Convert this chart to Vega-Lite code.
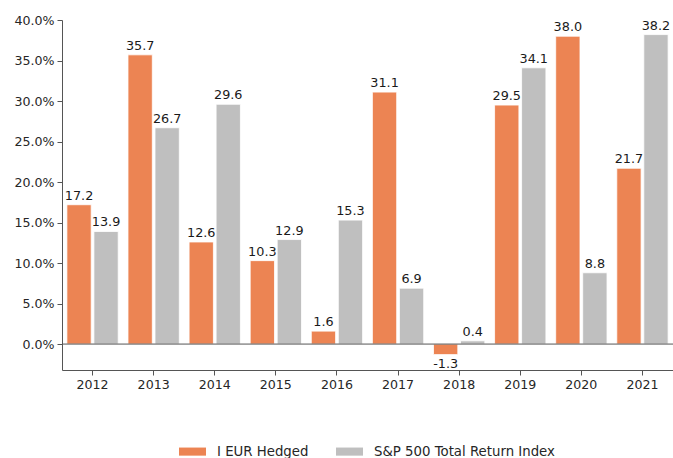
{
  "$schema": "https://vega.github.io/schema/vega-lite/v6.json",
  "width": 611,
  "height": 350,
  "autosize": {"type": "none"},
  "padding": {"left": 62, "top": 20, "right": 0, "bottom": 88},
  "config": {
    "view": {"stroke": null},
    "font": "DejaVu Sans",
    "axis": {"labelFont": "DejaVu Sans", "labelFontSize": 12.6, "labelColor": "#262626", "domainColor": "#555555", "tickColor": "#555555", "grid": false, "title": null, "tickSize": 5, "labelPadding": 3},
    "legend": {"labelFont": "DejaVu Sans", "labelFontSize": 13.3, "labelColor": "#262626", "labelLimit": 0}
  },
  "data": {"values": [
    {"year": "2012", "series": "I EUR Hedged", "value": 17.2},
    {"year": "2012", "series": "S&P 500 Total Return Index", "value": 13.9},
    {"year": "2013", "series": "I EUR Hedged", "value": 35.7},
    {"year": "2013", "series": "S&P 500 Total Return Index", "value": 26.7},
    {"year": "2014", "series": "I EUR Hedged", "value": 12.6},
    {"year": "2014", "series": "S&P 500 Total Return Index", "value": 29.6},
    {"year": "2015", "series": "I EUR Hedged", "value": 10.3},
    {"year": "2015", "series": "S&P 500 Total Return Index", "value": 12.9},
    {"year": "2016", "series": "I EUR Hedged", "value": 1.6},
    {"year": "2016", "series": "S&P 500 Total Return Index", "value": 15.3},
    {"year": "2017", "series": "I EUR Hedged", "value": 31.1},
    {"year": "2017", "series": "S&P 500 Total Return Index", "value": 6.9},
    {"year": "2018", "series": "I EUR Hedged", "value": -1.3},
    {"year": "2018", "series": "S&P 500 Total Return Index", "value": 0.4},
    {"year": "2019", "series": "I EUR Hedged", "value": 29.5},
    {"year": "2019", "series": "S&P 500 Total Return Index", "value": 34.1},
    {"year": "2020", "series": "I EUR Hedged", "value": 38.0},
    {"year": "2020", "series": "S&P 500 Total Return Index", "value": 8.8},
    {"year": "2021", "series": "I EUR Hedged", "value": 21.7},
    {"year": "2021", "series": "S&P 500 Total Return Index", "value": 38.2}
  ]},
  "transform": [{"calculate": "replace(format(datum.value, '.1f'), '\u2212', '-')", "as": "label"}],
  "encoding": {
    "x": {"field": "year", "type": "nominal", "scale": {"paddingInner": 0.16, "paddingOuter": 0.08}, "axis": {"labelAngle": 0}},
    "xOffset": {"field": "series", "type": "nominal", "scale": {"paddingInner": 0.1}},
    "y": {"field": "value", "type": "quantitative", "scale": {"domain": [-3.2, 40], "nice": false, "zero": false}, "axis": {"values": [0, 5, 10, 15, 20, 25, 30, 35, 40], "labelExpr": "format(datum.value, '.1f') + '%'"}}
  },
  "layer": [
    {
      "mark": {"type": "bar", "stroke": "white", "strokeWidth": 0.8},
      "encoding": {
        "y2": {"datum": 0},
        "color": {"field": "series", "type": "nominal", "scale": {"domain": ["I EUR Hedged", "S&P 500 Total Return Index"], "range": ["#EC8453", "#BFBFBF"]},
          "legend": {"title": null, "orient": "none", "legendX": 117, "legendY": 418, "direction": "horizontal", "symbolType": "M-1,-0.3H1V0.3H-1Z", "symbolSize": 729, "symbolStrokeWidth": 0, "labelOffset": 11, "columnPadding": 27}}
      }
    },
    {
      "transform": [{"filter": "datum.value >= 0"}],
      "mark": {"type": "text", "baseline": "bottom", "dy": -2, "fontSize": 12.8, "color": "#1a1a1a"},
      "encoding": {"text": {"field": "label", "type": "nominal"}}
    },
    {
      "transform": [{"filter": "datum.value < 0"}],
      "mark": {"type": "text", "baseline": "top", "dy": 3, "fontSize": 12.8, "color": "#1a1a1a"},
      "encoding": {"text": {"field": "label", "type": "nominal"}}
    },
    {
      "data": {"values": [{"zero": 0}]},
      "mark": {"type": "rule", "color": "#555555", "strokeWidth": 1},
      "encoding": {"y": {"field": "zero", "type": "quantitative"}, "x": null, "xOffset": null}
    }
  ]
}
